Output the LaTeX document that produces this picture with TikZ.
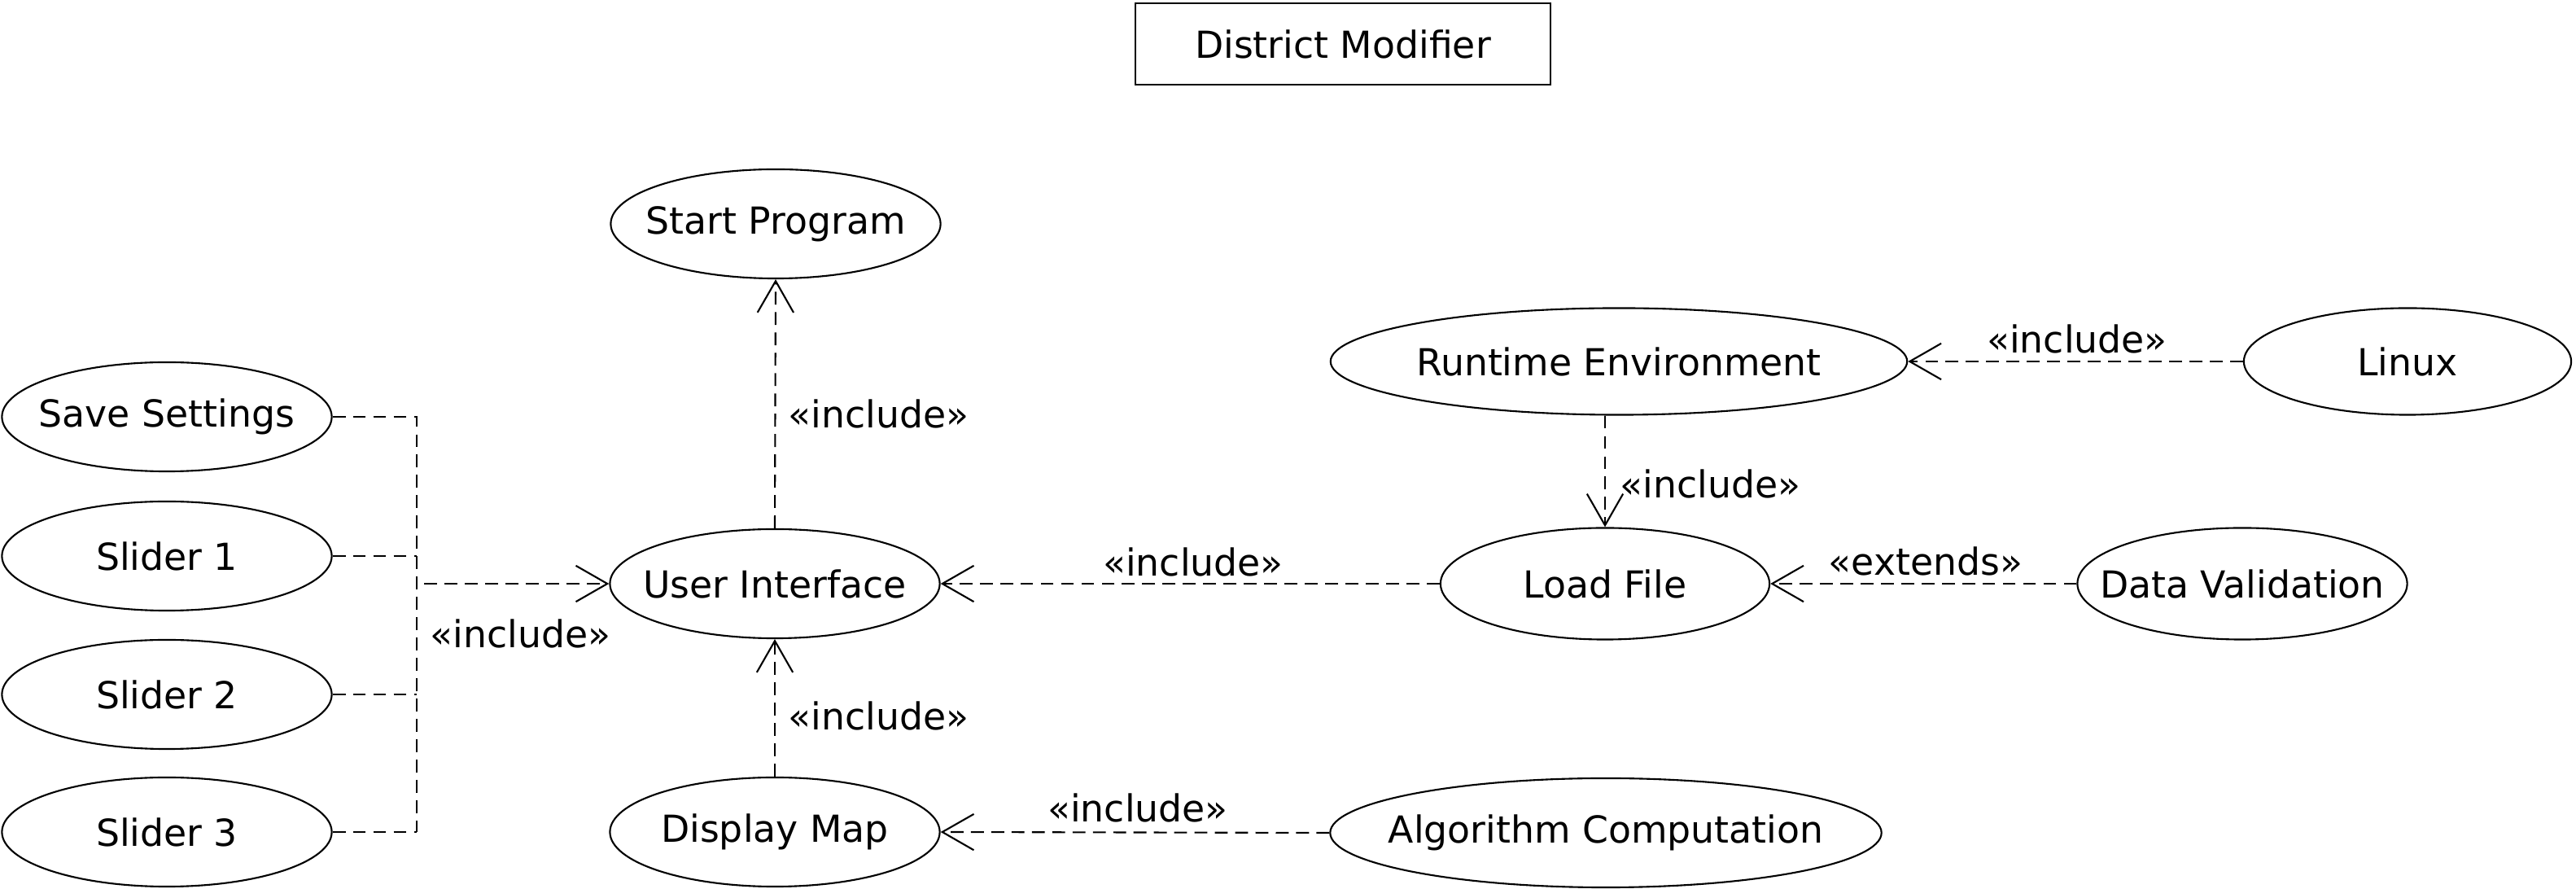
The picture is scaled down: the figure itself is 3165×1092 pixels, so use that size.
\documentclass[tikz,border=0pt]{standalone}
\usepackage{fontspec}
\setmainfont{DejaVu Sans}
\usetikzlibrary{shapes.geometric,arrows.meta}
\newcommand\uctext[1]{\makebox[0pt][c]{#1}}
\begin{document}
\begin{tikzpicture}[x=0.01cm,y=-0.01cm,
  font=\fontsize{13pt}{15pt}\selectfont,
  uc/.style={draw,ellipse,line width=0.6pt,inner sep=0pt,minimum width=4.05cm,minimum height=1.34cm},
  titlebox/.style={draw,rectangle,line width=0.6pt,inner sep=0pt,minimum width=5.09cm,minimum height=1.0cm},
  dep/.style={line width=0.6pt,dash pattern=on 4.5pt off 2.6pt},
  deparrow/.style={dep,-{Straight Barb[length=11pt,width=12.6pt,line width=0.6pt]}},
  lbl/.style={inner sep=0pt}
]
\useasboundingbox (0,0) rectangle (3165,1092);
% title
\node[titlebox] (title) at (1650,54) {District Modifier};
% use cases
\node[uc] (sp) at (953,275) {\uctext{Start Program}};
\node[uc] (ss) at (205,512) {\uctext{Save Settings}};
\node[uc] (s1) at (205,683) {\uctext{Slider 1}};
\node[uc] (s2) at (205,853) {\uctext{Slider 2}};
\node[uc] (s3) at (205,1022) {\uctext{Slider 3}};
\node[uc] (ui) at (952,717) {\uctext{User Interface}};
\node[uc] (dm) at (952,1022) {\uctext{Display Map}};
\node[uc,minimum width=7.08cm,minimum height=1.31cm] (re) at (1989,444) {\uctext{Runtime Environment}};
\node[uc,minimum width=4.02cm,minimum height=1.31cm] (lx) at (2958,444) {\uctext{Linux}};
\node[uc,minimum width=4.04cm,minimum height=1.37cm] (lf) at (1972,717) {\uctext{Load File}};
\node[uc,minimum width=4.05cm,minimum height=1.37cm] (dv) at (2755,717) {\uctext{Data Validation}};
\node[uc,minimum width=6.77cm,minimum height=1.34cm] (ac) at (1973,1023) {\uctext{Algorithm Computation}};
% bus for settings and sliders
\coordinate (bustop) at (512,512);
\coordinate (busbot) at (512,1022);
\coordinate (busmid) at (521,717);
\draw[dep] (ss.east) -- (ss.east -| bustop) -- (busbot);
\draw[dep] (s1.east) -- (s1.east -| bustop);
\draw[dep] (s2.east) -- (s2.east -| bustop);
\draw[dep] (s3.east) -- (busbot);
\draw[deparrow] (busmid) -- (ui.west);
\node[lbl,anchor=west] (l1) at (528,778) {«include»};
% UI -> Start Program
\draw[deparrow] (ui.north) -- (sp.south);
\node[lbl,anchor=west] (l2) at (968,508) {«include»};
% Display Map -> UI
\draw[deparrow] (dm.north) -- (ui.south);
\node[lbl,anchor=west] (l3) at (968,879) {«include»};
% Algorithm -> Display Map
\draw[deparrow] (ac.west) -- (dm.east);
\node[lbl] (l4) at (1398,992) {«include»};
% Load File -> UI
\draw[deparrow] (lf.west) -- (ui.east);
\node[lbl] (l5) at (1466,690) {«include»};
% Runtime Environment -> Load File
\draw[deparrow] (lf.north |- re.south) -- (lf.north);
\node[lbl,anchor=west] (l6) at (1990,594) {«include»};
% Linux -> Runtime Environment
\draw[deparrow] (lx.west) -- (re.east);
\node[lbl] (l7) at (2552,416) {«include»};
% Data Validation -> Load File
\draw[deparrow] (dv.west) -- (lf.east);
\node[lbl] (l8) at (2366,689) {«extends»};
\end{tikzpicture}
\end{document}
